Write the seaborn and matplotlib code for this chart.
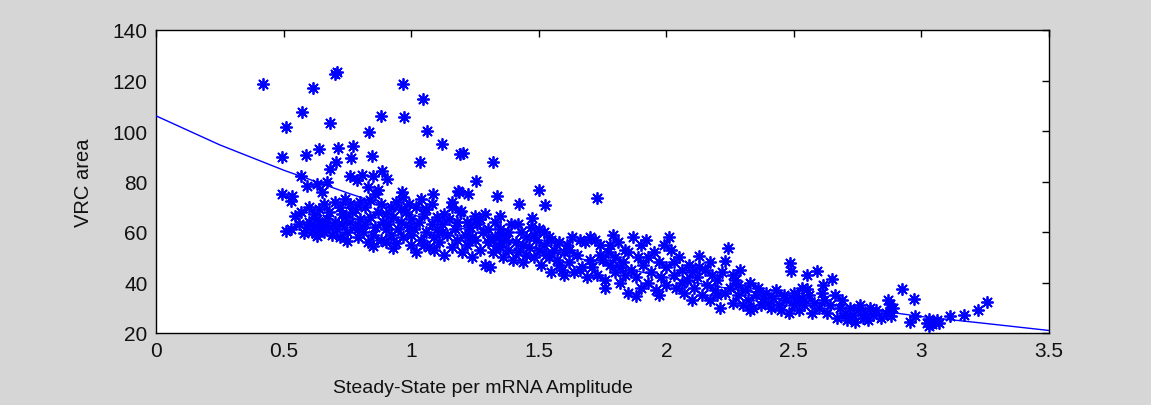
import matplotlib
matplotlib.use("Agg")
import matplotlib.pyplot as plt
import seaborn as sns
import pandas as pd

# ---- data ----
upper_x = [0.418, 0.617, 0.700, 0.708, 0.969, 1.048, 0.574, 0.682, 0.881, 0.973, 0.508, 0.836, 1.064,
           1.122, 1.19, 1.035, 0.493, 0.588, 0.639, 0.712, 0.773, 0.764, 0.845, 0.704, 0.682, 0.567,
           0.760, 0.787, 0.809, 0.852, 0.885, 0.904, 0.591, 0.630, 0.669, 0.649, 0.493, 0.532, 0.963,
           1.087, 1.184, 1.205, 1.320, 1.254, 1.189, 1.224, 1.335, 1.503, 1.424, 1.525, 1.730, 1.196,
           1.159, 1.25, 1.29, 1.348, 1.473]
upper_y = [118.6, 117, 122.5, 123.3, 118.6, 112.7, 107.6, 103.2, 106.1, 105.4, 101.4, 99.5, 100.1,
           94.9, 90.9, 87.6, 89.9, 90.5, 92.9, 93.1, 93.9, 89.2, 90, 87.9, 85, 82.1,
           82.1, 80.7, 82.6, 82.1, 84.3, 81, 78.4, 79, 79.9, 75.7, 75, 74.4, 75.7,
           75, 76.4, 91.3, 87.6, 80.3, 75.7, 75, 74.1, 76.6, 71.1, 70.7, 73.3, 68.4,
           71.9, 66.2, 67.1, 66.5, 65.4]

band_x = [0.51, 0.53, 0.545, 0.528, 0.56, 0.58, 0.59, 0.57, 0.60, 0.60,
          0.61, 0.62, 0.63, 0.64, 0.65, 0.66, 0.67, 0.68, 0.69, 0.62, 0.64, 0.66, 0.68, 0.70, 0.70, 0.63,
          0.71, 0.72, 0.73, 0.74, 0.75, 0.76, 0.77, 0.78, 0.79, 0.80, 0.72, 0.74, 0.76, 0.78, 0.80, 0.75, 0.79, 0.73,
          0.81, 0.82, 0.83, 0.84, 0.85, 0.86, 0.87, 0.88, 0.89, 0.90, 0.82, 0.84, 0.86, 0.88, 0.90, 0.83, 0.87, 0.85, 0.90,
          0.91, 0.92, 0.93, 0.94, 0.95, 0.96, 0.97, 0.98, 0.99, 1.00, 0.92, 0.94, 0.96, 0.99, 1.00, 0.93, 0.97, 1.00,
          1.01, 1.02, 1.03, 1.04, 1.05, 1.06, 1.07, 1.08, 1.09, 1.10, 1.02, 1.04, 1.06, 1.08, 1.10, 1.05, 1.09,
          1.11, 1.12, 1.13, 1.14, 1.15, 1.16, 1.17, 1.18, 1.19, 1.20, 1.13, 1.16, 1.18, 1.12,
          1.21, 1.22, 1.23, 1.24, 1.25, 1.26, 1.27, 1.28, 1.29, 1.30, 1.22, 1.27, 1.24, 1.30,
          1.31, 1.32, 1.33, 1.34, 1.35, 1.36, 1.37, 1.38, 1.39, 1.40, 1.33, 1.36, 1.38, 1.35, 1.31,
          1.41, 1.42, 1.43, 1.44, 1.45, 1.46, 1.47, 1.48, 1.49, 1.50, 1.42, 1.45, 1.48, 1.44, 1.50,
          1.51, 1.52, 1.53, 1.54, 1.55, 1.56, 1.57, 1.58, 1.59, 1.60, 1.52, 1.55, 1.58, 1.60, 1.54,
          1.61, 1.62, 1.63, 1.64, 1.65, 1.66, 1.67, 1.68, 1.69, 1.70, 1.62, 1.66, 1.70,
          1.71, 1.72, 1.73, 1.74, 1.75, 1.76, 1.77, 1.78, 1.79, 1.80, 1.74, 1.78, 1.76, 1.80,
          1.81, 1.82, 1.83, 1.84, 1.85, 1.86, 1.87, 1.88, 1.89, 1.90, 1.82, 1.85, 1.88, 1.90, 1.84,
          1.91, 1.92, 1.93, 1.94, 1.95, 1.96, 1.97, 1.98, 1.99, 2.00, 1.93, 1.97, 2.00,
          2.01, 2.02, 2.03, 2.04, 2.05, 2.06, 2.07, 2.08, 2.09, 2.10, 2.03, 2.06, 2.10,
          2.11, 2.12, 2.13, 2.14, 2.15, 2.16, 2.17, 2.18, 2.19, 2.20, 2.13, 2.17, 2.20,
          2.21, 2.22, 2.23, 2.24, 2.25, 2.26, 2.27, 2.28, 2.29, 2.30, 2.23, 2.26, 2.28,
          2.31, 2.32, 2.33, 2.34, 2.35, 2.36, 2.37, 2.38, 2.39, 2.40, 2.33,
          2.41, 2.42, 2.43, 2.44, 2.45, 2.46, 2.47, 2.485, 2.49, 2.50, 2.48, 2.50,
          2.51, 2.52, 2.53, 2.54, 2.55, 2.55, 2.56, 2.57, 2.58, 2.59, 2.60, 2.53,
          2.61, 2.615, 2.62, 2.63, 2.64, 2.65, 2.66, 2.67, 2.68, 2.69, 2.70,
          2.71, 2.72, 2.73, 2.74, 2.75, 2.76, 2.77, 2.78, 2.79, 2.80,
          2.81, 2.82, 2.84, 2.86, 2.877, 2.877, 2.88, 2.87, 2.89,
          2.923, 2.969, 2.956, 2.975, 3.02, 3.03, 3.04, 3.05, 3.06, 3.07, 3.03, 3.112, 3.167, 3.223, 3.256]
band_y = [60.5, 61, 66.5, 72.4, 63, 59.5, 62, 68, 70, 64,
          60, 62.5, 58.5, 61, 63.5, 60, 65, 62, 59, 67, 69, 71, 68, 64, 72, 65,
          61, 58, 63, 66, 60, 64, 68, 62, 58, 65, 70, 73, 71, 69, 72, 56.5, 61, 67,
          60, 63, 56, 66, 59, 62, 68, 57, 64, 61, 70, 72.5, 75, 71, 67, 78, 76.5, 54.5, 56,
          63, 59, 66, 55.5, 61, 64, 58, 68, 62, 55, 70, 72, 69, 71, 65, 53.5, 74, 59,
          61, 52, 64, 57, 67, 60, 54, 63, 58, 66, 70, 73, 69, 71, 61, 55, 53,
          56, 63, 51, 59, 65, 54, 61, 57, 68, 52, 67, 70, 64, 60,
          59, 55, 62, 50, 57, 63, 53, 60, 47, 56, 64, 65, 58, 61,
          46, 52, 58, 55, 61, 50, 57, 53, 63, 49, 64, 59, 60, 54, 57,
          56, 52, 60, 48, 58, 54, 62, 50, 57, 53, 63, 51, 59, 55, 61,
          47, 55, 51, 58, 44, 53, 49, 56, 45, 52, 60, 57, 47, 43, 50,
          55, 48, 58, 44, 51, 57, 46, 56, 42, 58, 53, 45, 49,
          46, 57, 43, 55, 49, 41, 52, 47, 59, 44, 51, 55, 38, 50,
          56, 40, 48, 53, 36, 45, 58, 42, 50, 38, 46, 52, 34.5, 55, 43,
          47, 57, 40, 44, 52, 37, 48, 42, 55, 39, 50, 35, 46,
          58, 53, 43, 38, 50, 45, 36, 41, 47, 33, 48, 40, 44,
          38, 42, 50.6, 35, 45, 39, 33, 43, 37, 41, 46, 48, 35,
          30, 44, 48.6, 53.5, 38, 32, 41, 35, 45, 31, 36, 43, 39,
          37, 33, 40, 30, 35, 38, 31, 34, 36, 32, 29,
          30, 34, 37, 31, 29, 35, 33, 47.6, 44.7, 31, 28, 36,
          33, 29, 38, 31, 43, 37.4, 35, 28, 32, 44.7, 30, 34,
          36, 39, 33, 28, 31, 41.4, 35, 26, 30, 33, 28,
          25, 30, 27, 24.5, 29, 31, 26, 28, 25, 30,
          27, 29, 26, 28, 31.5, 28.8, 26.9, 33, 30,
          37.4, 33.5, 24.2, 26.6, 24, 25.5, 23.5, 24.5, 25, 24, 22.8, 26.9, 27.1, 29.2, 32.1]

fit_x = [0, 0.25, 0.5, 0.75, 1.0, 1.25, 1.5, 1.75, 2.0, 2.25, 2.5, 2.75, 3.0, 3.25, 3.5]
fit_y = [106, 94.5, 84.5, 75.5, 67, 60, 53, 47.5, 42, 37.5, 33.5, 30, 26.5, 23.8, 21]

x_ticks = [0, 0.5, 1, 1.5, 2, 2.5, 3, 3.5]
x_tick_labels = ["0", "0.5", "1", "1.5", "2", "2.5", "3", "3.5"]
y_ticks = [20, 40, 60, 80, 100, 120, 140]
y_tick_labels = ["20", "40", "60", "80", "100", "120", "140"]

pts = pd.DataFrame({"amp": upper_x + band_x, "area": upper_y + band_y})
fit = pd.DataFrame({"amp": fit_x, "area": fit_y})

sns.set_theme(style="white")
plt.rcParams["font.family"] = ["Liberation Sans Narrow", "Liberation Sans", "DejaVu Sans"]

bg = "#d6d6d6"
fig = plt.figure(figsize=(11.51, 4.06), dpi=100, facecolor=bg)
ax = fig.add_axes([156 / 1151, 1 - 334 / 406, (1049 - 156) / 1151, (334 - 31) / 406])
ax.set_facecolor("white")

sns.scatterplot(data=pts, x="amp", y="area", marker=(8, 2, 0), s=66, color="#0000ff",
                linewidth=1.3, ax=ax, zorder=2)
sns.lineplot(data=fit, x="amp", y="area", color="#0000ff", linewidth=1.0, ax=ax, zorder=3)

ax.set_xlim(0, 3.5)
ax.set_ylim(20, 140)
ax.set_xticks(x_ticks)
ax.set_xticklabels(x_tick_labels)
ax.set_yticks(y_ticks)
ax.set_yticklabels(y_tick_labels)
ax.tick_params(direction="in", length=5, width=1, color="black", top=True, right=True,
               labelsize=15, labelcolor="#111111", pad=6)
for s in ax.spines.values():
    s.set_visible(True)
    s.set_color("black")
    s.set_linewidth(1.0)

ax.set_xlabel("")
ax.set_ylabel("VRC area", fontsize=14.5, color="#111111", labelpad=14)
fig.text(483 / 1151, 1 - 389 / 406, "Steady-State per mRNA Amplitude", fontsize=14,
         color="#111111", ha="center", va="center")

fig.savefig("out.png", dpi=100, facecolor=bg)
